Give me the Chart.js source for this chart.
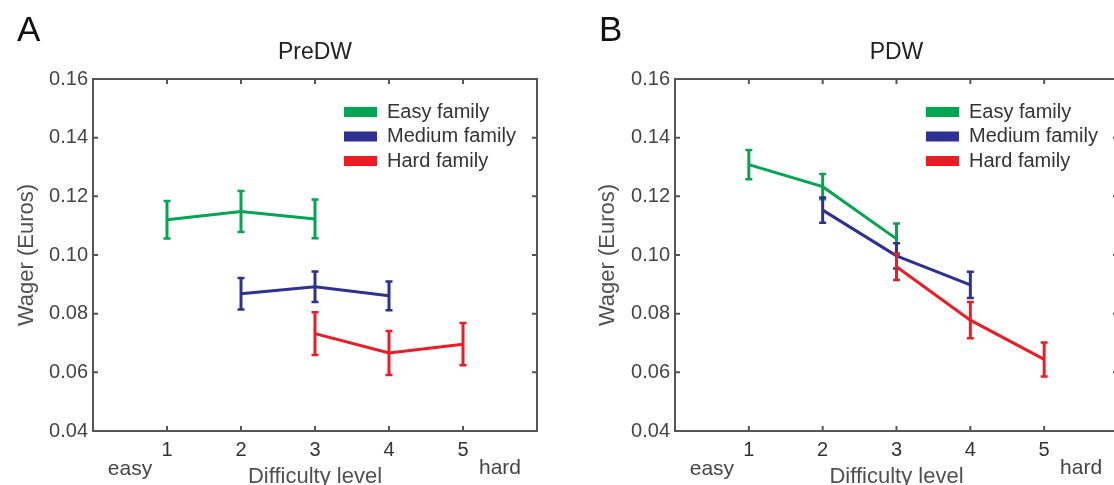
<!DOCTYPE html>
<html>
<head>
<meta charset="utf-8">
<title>Wager by difficulty level</title>
<script src="https://cdn.jsdelivr.net/npm/chart.js@4.4.1/dist/chart.umd.min.js"></script>
<style>
  html, body { margin: 0; padding: 0; background: #fff; overflow: hidden; }
  #wrap { position: relative; width: 1114px; height: 485px; overflow: hidden; }
  canvas { position: absolute; top: 0; }
  #panelA { left: 0; }
  #panelB { left: 557px; }
</style>
</head>
<body>
<div id="wrap">
  <canvas id="panelA" width="557" height="485"></canvas>
  <canvas id="panelB" width="580" height="485"></canvas>
</div>
<script>
const levels = [1, 2, 3, 4, 5];
const wagerTicks = [0.04, 0.06, 0.08, 0.10, 0.12, 0.14, 0.16];
const familyNames = ['Easy family', 'Medium family', 'Hard family'];
const familyColors = ['#00a651', '#2e3192', '#ed1c24'];

// PreDW: mean wager and error per difficulty level
const preEasy      = [0.1120, 0.1148, 0.1123, null, null];
const preEasyErr   = [0.0064, 0.0070, 0.0066, null, null];
const preMedium    = [null, 0.0868, 0.0892, 0.0861, null];
const preMediumErr = [null, 0.0054, 0.0052, 0.0049, null];
const preHard      = [null, null, 0.0732, 0.0666, 0.0696];
const preHardErr   = [null, null, 0.0073, 0.0075, 0.0072];

// PDW
const pdwEasy      = [0.1308, 0.1233, 0.1055, null, null];
const pdwEasyErr   = [0.0050, 0.0043, 0.0052, null, null];
const pdwMedium    = [null, 0.1153, 0.0997, 0.0898, null];
const pdwMediumErr = [null, 0.0043, 0.0043, 0.0045, null];
const pdwHard      = [null, null, 0.0960, 0.0778, 0.0644];
const pdwHardErr   = [null, null, 0.0045, 0.0062, 0.0058];

Chart.defaults.font.family = '"Liberation Sans", Arial, Helvetica, sans-serif';

const AXIS = '#555555';

// box around the plot with tick marks pointing inwards
const framePlugin = {
  id: 'frame',
  beforeDatasetsDraw(chart) {
    const { ctx, chartArea: a, scales: { x, y } } = chart;
    const len = 5;
    ctx.save();
    ctx.strokeStyle = AXIS;
    ctx.lineWidth = 2;
    ctx.strokeRect(a.left, a.top, a.right - a.left, a.bottom - a.top);
    ctx.beginPath();
    levels.forEach(v => {
      const px = x.getPixelForValue(v);
      ctx.moveTo(px, a.bottom); ctx.lineTo(px, a.bottom - len);
      ctx.moveTo(px, a.top); ctx.lineTo(px, a.top + len);
    });
    wagerTicks.slice(1, -1).forEach(v => {
      const py = y.getPixelForValue(v);
      ctx.moveTo(a.left, py); ctx.lineTo(a.left + len, py);
      ctx.moveTo(a.right, py); ctx.lineTo(a.right - len, py);
    });
    ctx.stroke();
    ctx.restore();
  }
};

// vertical error bars with small caps, drawn right after each line
const errorBarPlugin = {
  id: 'errorBars',
  afterDatasetDraw(chart, args) {
    const ds = chart.data.datasets[args.index];
    if (!ds.err) return;
    const { ctx, scales: { x, y } } = chart;
    ctx.save();
    ctx.strokeStyle = ds.borderColor;
    ds.data.forEach((v, i) => {
      if (v == null) return;
      const px = x.getPixelForValue(levels[i]);
      const top = y.getPixelForValue(v + ds.err[i]);
      const bot = y.getPixelForValue(v - ds.err[i]);
      ctx.lineWidth = 3;
      ctx.beginPath();
      ctx.moveTo(px, top); ctx.lineTo(px, bot);
      ctx.stroke();
      ctx.lineWidth = 2.5;
      ctx.beginPath();
      ctx.moveTo(px - 3.5, top); ctx.lineTo(px + 3.5, top);
      ctx.moveTo(px - 3.5, bot); ctx.lineTo(px + 3.5, bot);
      ctx.stroke();
    });
    ctx.restore();
  }
};

// legend box in the upper right of the plot, plus panel letter and easy/hard labels
const notesPlugin = {
  id: 'notes',
  afterDraw(chart, args, opts) {
    const { ctx, chartArea: a, scales: { x } } = chart;
    ctx.save();
    ctx.textBaseline = 'middle';
    ctx.font = '20px "Liberation Sans", Arial, sans-serif';
    chart.data.datasets.forEach((ds, i) => {
      const ly = a.top + 33 + i * 24.5;
      ctx.fillStyle = ds.borderColor;
      ctx.fillRect(a.left + 251, ly - 5, 33, 10);
      ctx.fillStyle = '#333333';
      ctx.textAlign = 'left';
      ctx.fillText(ds.label, a.left + 294, ly);
    });
    ctx.fillStyle = '#444444';
    ctx.textAlign = 'center';
    ctx.font = '21px "Liberation Sans", Arial, sans-serif';
    ctx.fillText('easy', x.getPixelForValue(0.5), 469);
    ctx.fillText('hard', x.getPixelForValue(5.5), 468);
    ctx.fillStyle = '#111111';
    ctx.textAlign = 'left';
    ctx.textBaseline = 'alphabetic';
    ctx.font = '35px "Liberation Sans", Arial, sans-serif';
    ctx.fillText(opts.letter, opts.letterX, 41);
    ctx.restore();
  }
};

function makeSeries(values, errors, idx) {
  return {
    label: familyNames[idx],
    data: values,
    err: errors,
    borderColor: familyColors[idx],
    backgroundColor: familyColors[idx],
    borderWidth: 3,
    pointRadius: 0,
    tension: 0,
    spanGaps: false,
    order: 3 - idx
  };
}

function buildPanel(canvasId, title, letter, letterX, yAxisWidth, rightPad, yTitlePad, series) {
  return new Chart(document.getElementById(canvasId), {
    type: 'line',
    data: {
      labels: levels,
      datasets: series
    },
    options: {
      responsive: false,
      animation: false,
      layout: { padding: { left: 0, right: rightPad, top: 0, bottom: 0 } },
      scales: {
        x: {
          type: 'linear',
          min: 0,
          max: 6,
          afterBuildTicks: s => { s.ticks = levels.map(v => ({ value: v })); },
          afterFit: s => { s.height = 54; },
          grid: { display: false, drawTicks: false },
          border: { display: false },
          ticks: { font: { size: 20 }, color: '#333333', padding: 7, maxRotation: 0, autoSkip: false },
          title: {
            display: true,
            text: 'Difficulty level',
            font: { size: 22, lineHeight: 1 },
            color: '#505050',
            padding: { top: 0, bottom: -3 }
          }
        },
        y: {
          min: 0.04,
          max: 0.16,
          afterBuildTicks: s => { s.ticks = wagerTicks.map(v => ({ value: v })); },
          afterFit: s => { s.width = yAxisWidth; },
          grid: { display: false, drawTicks: false },
          border: { display: false },
          ticks: { font: { size: 20 }, color: '#444444', padding: 5, callback: v => v.toFixed(2) },
          title: {
            display: true,
            text: 'Wager (Euros)',
            font: { size: 22 },
            color: '#505050',
            padding: { top: yTitlePad, bottom: 0 }
          }
        }
      },
      plugins: {
        legend: { display: false },
        tooltip: { enabled: false },
        title: {
          display: true,
          text: title,
          fullSize: false,
          color: '#222222',
          font: { size: 23, weight: 'normal' },
          padding: { top: 39, bottom: 12.4 }
        },
        notes: { letter: letter, letterX: letterX }
      }
    },
    plugins: [framePlugin, errorBarPlugin, notesPlugin]
  });
}

buildPanel('panelA', 'PreDW', 'A', 17, 93, 20, 13.8, [
  makeSeries(preEasy, preEasyErr, 0),
  makeSeries(preMedium, preMediumErr, 1),
  makeSeries(preHard, preHardErr, 2)
]);

buildPanel('panelB', 'PDW', 'B', 42, 118, 19, 37.8, [
  makeSeries(pdwEasy, pdwEasyErr, 0),
  makeSeries(pdwMedium, pdwMediumErr, 1),
  makeSeries(pdwHard, pdwHardErr, 2)
]);
</script>
</body>
</html>
